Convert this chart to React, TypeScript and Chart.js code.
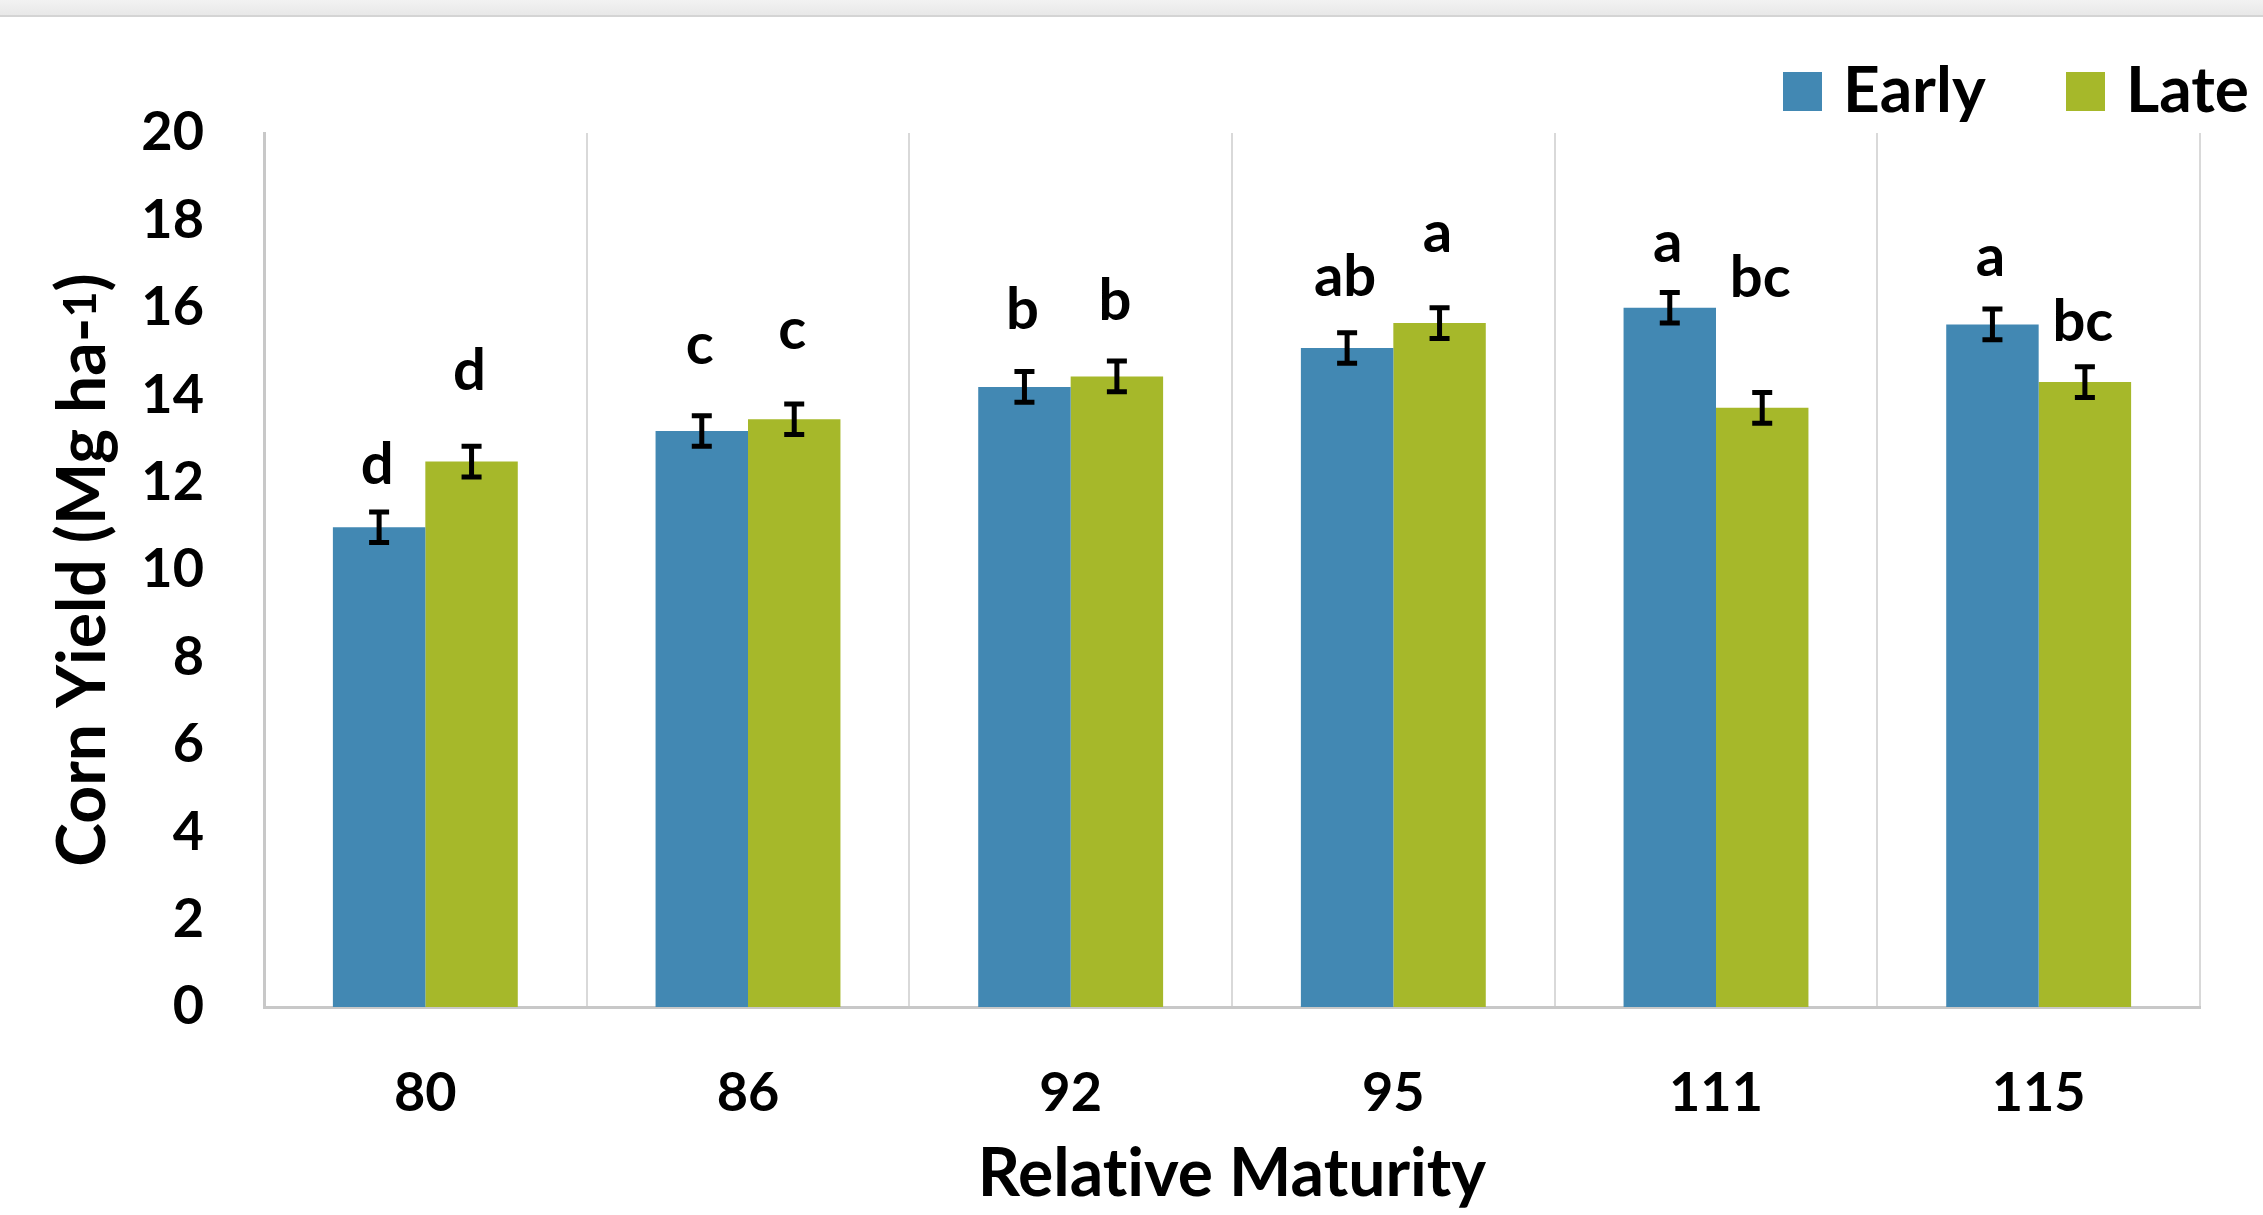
import React, { useEffect, useRef } from "react";
import { Chart, registerables } from "chart.js";

Chart.register(...registerables);

// ---- data ----
const categories = ["80", "86", "92", "95", "111", "115"];
const seriesNames = ["Early", "Late"];
const earlyYield = [10.98, 13.18, 14.19, 15.08, 16.0, 15.62];
const lateYield = [12.48, 13.45, 14.43, 15.65, 13.71, 14.3];
const earlyError = [0.35, 0.35, 0.35, 0.35, 0.35, 0.35];
const lateError = [0.35, 0.35, 0.35, 0.35, 0.35, 0.35];
const earlyLetters = ["d", "c", "b", "ab", "a", "a"];
const lateLetters = ["d", "c", "b", "a", "bc", "bc"];
// baseline height (in yield units) of each significance letter
const earlyLetterAt = [11.97, 14.72, 15.51, 16.27, 17.05, 16.72];
const lateLetterAt = [14.13, 15.05, 15.71, 17.27, 16.25, 15.25];
const yMin = 0;
const yMax = 20;
const yStep = 2;
const xTitle = "Relative Maturity";
const yTitleMain = "Corn Yield (Mg ha-";
const yTitleSup = "1";
const yTitleEnd = ")";

const BLUE = "#4288b3";
const GREEN = "#a6b82a";
const FONT = "Lato";

const W = 2263;
const H = 1215;

export default function App() {
  const ref = useRef<HTMLCanvasElement | null>(null);

  useEffect(() => {
    const canvas = ref.current;
    if (!canvas) return;

    const overlay = {
      id: "overlay",
      beforeDraw(chart: any) {
        const ctx: any = chart.ctx;
        ctx.textRendering = "optimizeSpeed";
      },
      afterDatasetsDraw(chart: any) {
        const ctx = chart.ctx;
        const y = chart.scales.y;
        const errs = [earlyError, lateError];
        const vals = [earlyYield, lateYield];
        const letters = [earlyLetters, lateLetters];
        const letterAt = [earlyLetterAt, lateLetterAt];
        ctx.save();
        for (let d = 0; d < 2; d++) {
          const meta = chart.getDatasetMeta(d);
          meta.data.forEach((bar: any, i: number) => {
            const x = bar.x;
            const v = vals[d][i];
            const e = errs[d][i];
            const yTop = y.getPixelForValue(v + e);
            const yBot = y.getPixelForValue(v - e);
            ctx.strokeStyle = "#000";
            ctx.lineWidth = 5;
            ctx.lineCap = "butt";
            ctx.beginPath();
            ctx.moveTo(x, yTop);
            ctx.lineTo(x, yBot);
            ctx.moveTo(x - 10, yTop);
            ctx.lineTo(x + 10, yTop);
            ctx.moveTo(x - 10, yBot);
            ctx.lineTo(x + 10, yBot);
            ctx.stroke();
            ctx.fillStyle = "#000";
            ctx.font = `bold 58px ${FONT}`;
            ctx.textAlign = "center";
            ctx.textBaseline = "alphabetic";
            ctx.fillText(letters[d][i], x - 2, y.getPixelForValue(letterAt[d][i]));
          });
        }
        ctx.restore();
      },
      afterDraw(chart: any) {
        const ctx = chart.ctx;
        ctx.save();
        // legend
        ctx.font = `bold 64px ${FONT}`;
        ctx.textBaseline = "alphabetic";
        ctx.textAlign = "left";
        const legendItems = [
          { name: seriesNames[0], color: BLUE, boxX: 1783, textX: 1843 },
          { name: seriesNames[1], color: GREEN, boxX: 2066, textX: 2126 },
        ];
        legendItems.forEach((it) => {
          ctx.fillStyle = it.color;
          ctx.fillRect(it.boxX, 72, 39, 39);
          ctx.fillStyle = "#000";
          ctx.fillText(it.name, it.textX, 112);
        });
        // y-axis title with superscript
        const cy = (chart.chartArea.top + chart.chartArea.bottom) / 2;
        ctx.translate(105, cy);
        ctx.rotate(-Math.PI / 2);
        const mainFont = `bold 66px ${FONT}`;
        const supFont = `bold 45px ${FONT}`;
        ctx.font = mainFont;
        const w1 = ctx.measureText(yTitleMain).width;
        const w3 = ctx.measureText(yTitleEnd).width;
        ctx.font = supFont;
        const w2 = ctx.measureText(yTitleSup).width;
        let x0 = -(w1 + w2 + w3) / 2;
        ctx.fillStyle = "#000";
        ctx.font = mainFont;
        ctx.fillText(yTitleMain, x0, 0);
        x0 += w1;
        ctx.font = supFont;
        ctx.fillText(yTitleSup, x0, -9);
        x0 += w2;
        ctx.font = mainFont;
        ctx.fillText(yTitleEnd, x0, 0);
        ctx.restore();
      },
    };

    const chart = new Chart(canvas, {
      type: "bar",
      data: {
        labels: categories,
        datasets: [
          {
            label: seriesNames[0],
            data: earlyYield,
            backgroundColor: BLUE,
            categoryPercentage: 0.573,
            barPercentage: 1,
          },
          {
            label: seriesNames[1],
            data: lateYield,
            backgroundColor: GREEN,
            categoryPercentage: 0.573,
            barPercentage: 1,
          },
        ],
      },
      options: {
        responsive: false,
        animation: false,
        devicePixelRatio: 1,
        layout: { padding: { top: 133, right: 63, left: 0, bottom: 0 } },
        plugins: {
          legend: { display: false },
          tooltip: { enabled: false },
        },
        scales: {
          x: {
            grid: { display: true, color: "#d9d9d9", lineWidth: 2, drawTicks: false, offset: true },
            border: { display: true, color: "#c8c8c8", width: 3 },
            ticks: {
              color: "#000",
              font: { family: FONT, size: 54, weight: "bold" },
              padding: 54,
            },
            title: {
              display: true,
              text: xTitle,
              color: "#000",
              font: { family: FONT, size: 66, weight: "bold" },
              padding: { top: 0, bottom: 1 },
            },
            afterFit(scale: any) {
              scale.height = H - 1007;
            },
          },
          y: {
            min: yMin,
            max: yMax,
            grid: { display: false, drawTicks: false },
            border: { display: true, color: "#c8c8c8", width: 3 },
            ticks: {
              stepSize: yStep,
              color: "#000",
              font: { family: FONT, size: 54, weight: "bold" },
              padding: 60,
            },
            afterFit(scale: any) {
              scale.width = 264;
            },
          },
        },
      },
      plugins: [overlay],
    });

    return () => chart.destroy();
  }, []);

  return (
    <div style={{ position: "fixed", left: 0, top: 0, width: W, height: H, background: "#fff" }}>
      <canvas ref={ref} width={W} height={H} style={{ width: W, height: H, display: "block" }} />
      <div
        style={{
          position: "absolute",
          left: 0,
          top: 0,
          width: W,
          height: 15,
          background: "linear-gradient(#f2f2f2, #e8e8e8)",
          borderBottom: "2px solid #d4d4d4",
        }}
      />
    </div>
  );
}
